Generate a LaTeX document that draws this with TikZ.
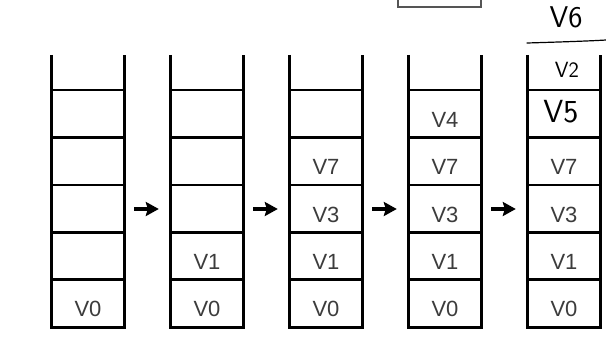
\documentclass[tikz,border=0pt]{standalone}
\usepackage{fontspec}
\setmainfont{Liberation Sans}
\usetikzlibrary{arrows.meta}
\definecolor{labelgray}{HTML}{3C3C3C}
\definecolor{boxgray}{HTML}{555555}

\begin{document}
\begin{tikzpicture}[x=1pt,y=-1pt,
  wall/.style={line width=2.8pt},
  shelf/.style={line width=2.6pt},
  push/.style={line width=3.2pt,-{Stealth[length=13pt,width=14pt,inset=2pt]}},
  val/.style={text=labelgray,font=\fontsize{22}{22}\selectfont},
  hand/.style={font=\sffamily\fontsize{#1}{#1}\selectfont}]
  \useasboundingbox (0,0) rectangle (606,354);
  % stacks, bottom cell first
  \foreach \i/\x/\labs in {1/52/{V0},2/171/{V0,V1},3/290/{V0,V1,V3,V7},
                           4/409/{V0,V1,V3,V7,V4},5/528/{V0,V1,V3,V7}}{
    \node[minimum width=72pt,minimum height=272pt,inner sep=0pt] (st\i) at (\x+36,191) {};
    \draw[wall] (st\i.north west) -- (st\i.south west) -- (st\i.south east) -- (st\i.north east);
    \foreach \k in {1,...,5}
      \draw[shelf] (\x,{327-47.4*\k}) -- (\x+72,{327-47.4*\k});
    \foreach \t [count=\k] in \labs
      \node[val] (c\i-\k) at (\x+36,{327-47.4*\k+29.7}) {\t};
  }
  % arrows between stacks
  \foreach \i [evaluate=\i as \j using int(\i+1)] in {1,...,4}
    \draw[push] ([shift={(10,18)}]st\i.east) -- ([shift={(-12,18)}]st\j.west);
  % box cut off at the top
  \draw[boxgray,line width=1.3pt] (398,-10) rectangle (481,7);
  % hand written additions
  \node[hand=30] (h6) at (566,17) {V6};
  \draw[line width=1.2pt,line cap=round] (527,43) .. controls (560,42) and (590,41) .. (606,40);
  \node[hand=22] (h2) at (567,70) {V2};
  \node[hand=32] (h5) at (561,112) {V5};
\end{tikzpicture}
\end{document}
